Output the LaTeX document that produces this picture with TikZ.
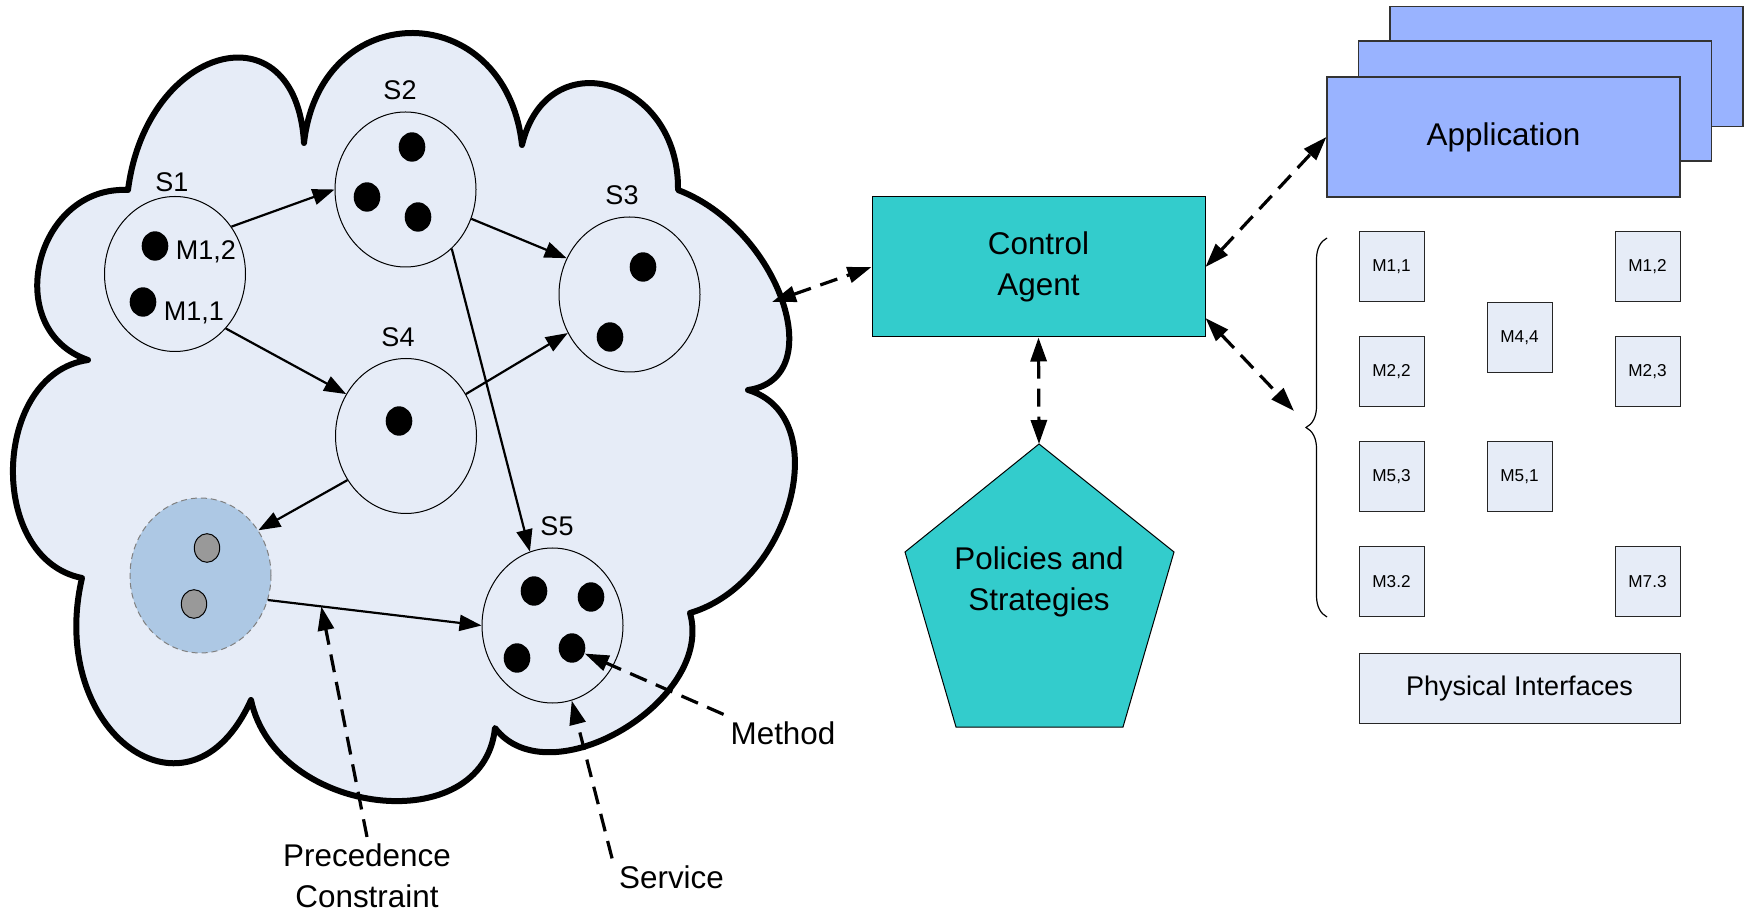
\documentclass[tikz,border=0pt]{standalone}
\usepackage{fontspec}
\setmainfont{Liberation Sans}
\usetikzlibrary{arrows.meta,shapes.geometric,decorations.pathreplacing}
\definecolor{cloudfill}{RGB}{230,236,247}
\definecolor{shadeblue}{RGB}{173,200,228}
\definecolor{dotgrey}{RGB}{153,153,153}
\definecolor{agentcyan}{RGB}{51,204,204}
\definecolor{appblue}{RGB}{153,179,255}

\begin{document}
\begin{tikzpicture}[x=0.5pt, y=-0.5pt,
  service/.style={draw, ellipse, line width=0.5pt, minimum width=70.5pt, minimum height=77.5pt, inner sep=0pt},
  mdot/.style={ellipse, fill=black, minimum width=13.3pt, minimum height=14.7pt, inner sep=0pt},
  gdot/.style={ellipse, draw, line width=0.5pt, fill=dotgrey, minimum width=12.7pt, minimum height=14.3pt, inner sep=0pt},
  slab/.style={font=\fontsize{13.5}{16}\selectfont, inner sep=0pt},
  big/.style={font=\fontsize{15.7}{20.5}\selectfont, align=center},
  flow/.style={-{Triangle[length=11pt,width=8pt]}, line width=1.1pt},
  hint/.style={-{Triangle[length=12pt,width=8pt]}, line width=1.6pt, dash pattern=on 9pt off 5pt},
  link/.style={hint, {Triangle[length=12pt,width=8pt]}-{Triangle[length=12pt,width=8pt]}},
  module/.style={draw=black!85, line width=0.5pt, fill=cloudfill, minimum width=32.5pt, minimum height=35pt, font=\fontsize{8.6}{10}\selectfont},
  app/.style={draw=black!80, line width=0.6pt, fill=appblue, minimum width=176.5pt, minimum height=60pt}]
  \useasboundingbox (0,0) rectangle (1744,913);

  \draw[line width=3pt, line join=round, fill=cloudfill]
    (128,190) .. controls (146.5,44.5) and (296.1,4.5) .. (304,143)
    .. controls (320.4,-4.85) and (505.65,-3.15) .. (522,145)
    .. controls (547,39.7) and (679.6,78) .. (678,190)
    .. controls (778.75,228.3) and (831.25,378.3) .. (748,390)
    .. controls (835.4,415.9) and (791.9,583.1) .. (690,613)
    .. controls (714.7,700.9) and (548.9,798.7) .. (495,728)
    .. controls (483.4,840.6) and (276,816.8) .. (251,700)
    .. controls (189.6,836.2) and (46,732.5) .. (82,578)
    .. controls (-13.55,559) and (-8.45,373.7) .. (88,360)
    .. controls (0.33,329.9) and (34.3,185.4) .. cycle;

  \node[service] (s1) at (175,274) {};
  \node[service] (s2) at (405.5,189.5) {};
  \node[service] (s3) at (629.5,294.5) {};
  \node[service] (s4) at (406,436) {};
  \node[service] (s5) at (552.5,625.5) {};
  \node[service, fill=shadeblue, draw=gray, densely dashed] (s0) at (200.5,575.5) {};

  \node[slab] (l1) at (172,182) {S1};
  \node[slab] (l2) at (400,90) {S2};
  \node[slab] (l3) at (622,195) {S3};
  \node[slab] (l4) at (398,337) {S4};
  \node[slab] (l5) at (557,526) {S5};
  \node[slab] (l12) at (206,252) {M1,2};
  \node[slab] (l11) at (194,313) {M1,1};

  \node[mdot] (s1a) at (155,246) {};
  \node[mdot] (s1b) at (143,302) {};
  \node[mdot] (s2a) at (412,147) {};
  \node[mdot] (s2b) at (367,197) {};
  \node[mdot] (s2c) at (418,217) {};
  \node[mdot] (s3a) at (643,267) {};
  \node[mdot] (s3b) at (610,337) {};
  \node[mdot] (s4a) at (399,421) {};
  \node[mdot] (s5a) at (534,591) {};
  \node[mdot] (s5b) at (591,597) {};
  \node[mdot] (s5c) at (517,658) {};
  \node[mdot] (s5d) at (572,648) {};
  \node[gdot] (s0a) at (207,548) {};
  \node[gdot] (s0b) at (194,604) {};

  \draw[flow] (s1.40) -- (s2.180);
  \draw[flow] (s1.-47) -- (s4.145);
  \draw[flow] (s2.-24) -- (s3.150);
  \draw[flow] (s2.-52) -- (s5.107);
  \draw[flow] (s4.35) -- (s3.212);
  \draw[flow] (s4.217) -- (s0.38);
  \draw[flow] (s0.-20) -- coordinate[pos=0.25] (pc) (s5.180);

  \node[big] (prec) at (367,876) {Precedence\\Constraint};
  \node[big] (serv) at (671.5,877) {Service};
  \node[big] (meth) at (783,733) {Method};
  \draw[hint] (prec.north) -- (pc);
  \draw[hint] (serv.north west) -- (s5);
  \draw[hint] (meth.north west) -- (s5d);

  \node[draw, line width=0.5pt, fill=agentcyan, minimum width=166.5pt, minimum height=70pt, big] (agent) at (1038.5,267) {Control\\Agent};
  \coordinate (cloudport) at (772,302);
  \draw[link] (cloudport) -- (agent.west);

  \draw[line width=0.5pt, fill=agentcyan] (1039,444) coordinate (apex) -- (1174,552) -- (1123,727) -- (956,727) -- (905,552) -- cycle;
  \node[big] (policies) at (1039,582) {Policies and\\Strategies};
  \draw[link] (agent.south) -- (apex);

  \node[app] (app3) at (1566.5,66.5) {};
  \node[app] (app2) at (1535,101) {};
  \node[app, big] (app) at (1503.5,137) {Application};
  \draw[link] (agent.east) -- (app.west);

  \node[module] (m11) at (1391.5,266.5) {M1,1};
  \node[module] (m22) at (1391.5,371.7) {M2,2};
  \node[module] (m53) at (1391.5,477) {M5,3};
  \node[module] (m32) at (1391.5,582) {M3.2};
  \node[module] (m44) at (1519.5,337.5) {M4,4};
  \node[module] (m51) at (1519.5,477) {M5,1};
  \node[module] (m12) at (1647.5,266.5) {M1,2};
  \node[module] (m23) at (1647.5,371.7) {M2,3};
  \node[module] (m73) at (1647.5,582) {M7.3};
  \node[module, minimum width=160.5pt, font=\fontsize{13.5}{16}\selectfont] (phys) at (1519.5,688.5) {Physical Interfaces};

  \draw[line width=0.6pt, decorate, decoration={brace, amplitude=10.5pt}] (1327,617) -- (1327,238);
  \coordinate (bracetip) at (1294,411);
  \draw[link] (agent.-17) -- (bracetip);
\end{tikzpicture}
\end{document}
